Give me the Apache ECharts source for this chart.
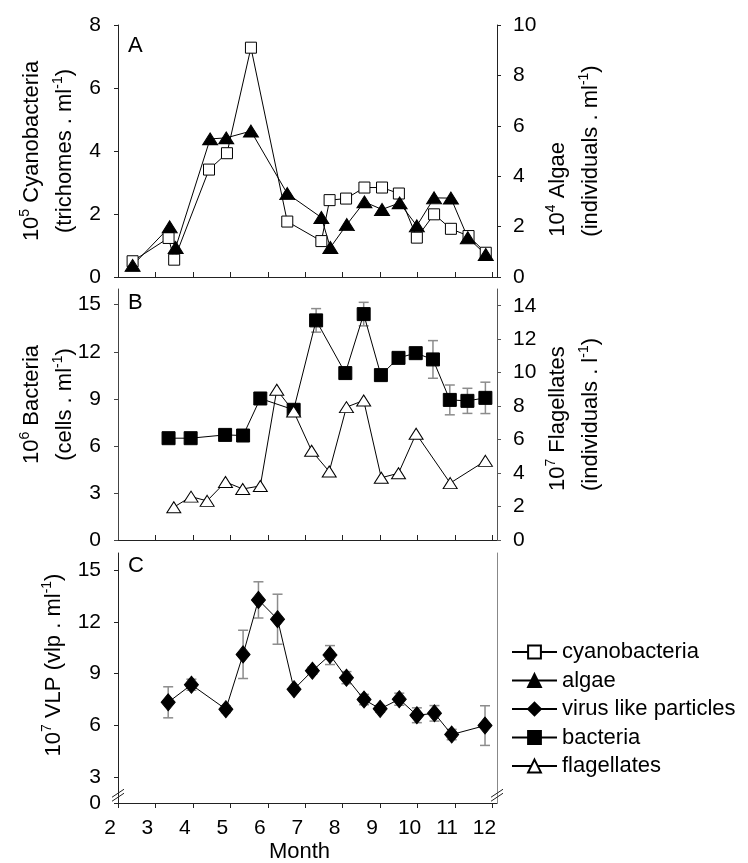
<!DOCTYPE html>
<html>
<head>
<meta charset="utf-8">
<script src="https://cdn.jsdelivr.net/npm/echarts@6/dist/echarts.min.js"></script>
<style>
  html, body { margin: 0; padding: 0; background: #fff; }
  #chart { width: 748px; height: 863px; }
</style>
</head>
<body>
<div id="chart"></div>
<script>
// values (x = month, y = panel units)
const cyanoMonth = [2.39, 3.35, 3.50, 4.43, 4.91, 5.55, 6.52, 7.43, 7.65, 8.09, 8.58, 9.05, 9.50, 9.98, 10.44, 10.89, 11.36, 11.82]
const cyanoValue = [0.50, 1.24, 0.55, 3.41, 3.93, 7.28, 1.76, 1.14, 2.44, 2.49, 2.84, 2.84, 2.65, 1.25, 1.99, 1.53, 1.30, 0.77]
const algaeMonth = [2.39, 3.38, 3.54, 4.46, 4.89, 5.55, 6.52, 7.43, 7.67, 8.11, 8.58, 9.05, 9.52, 9.98, 10.44, 10.89, 11.34, 11.82]
const algaeValue = [0.46, 1.99, 1.17, 5.48, 5.52, 5.79, 3.31, 2.36, 1.17, 2.08, 2.98, 2.68, 2.94, 2.03, 3.14, 3.13, 1.56, 0.89]
const bactMonth = [3.35, 3.94, 4.86, 5.34, 5.80, 6.69, 7.29, 8.07, 8.56, 9.02, 9.49, 9.95, 10.41, 10.86, 11.33, 11.81]
const bactValue = [6.49, 6.49, 6.70, 6.66, 9.02, 8.30, 14.0, 10.64, 14.4, 10.51, 11.61, 11.91, 11.51, 8.93, 8.87, 9.06]
const bactErr = [0.1, 0.1, 0.1, 0.1, 0.15, 0.35, 0.75, 0.2, 0.75, 0.2, 0.2, 0.2, 1.2, 0.95, 0.8, 1.0]
const flagMonth = [3.49, 3.95, 4.38, 4.87, 5.33, 5.80, 6.24, 6.69, 7.17, 7.64, 8.10, 8.56, 9.03, 9.49, 9.96, 10.87, 11.81]
const flagValue = [1.96, 2.59, 2.34, 3.47, 3.05, 3.23, 8.98, 7.68, 5.33, 4.09, 7.94, 8.34, 3.72, 3.99, 6.35, 3.40, 4.73]
const vlpMonth = [3.34, 3.96, 4.88, 5.34, 5.75, 6.26, 6.70, 7.19, 7.66, 8.10, 8.57, 9.00, 9.51, 9.98, 10.45, 10.91, 11.80]
const vlpValue = [7.34, 8.36, 6.94, 10.12, 13.28, 12.16, 8.10, 9.17, 10.08, 8.77, 7.50, 6.96, 7.52, 6.59, 6.70, 5.47, 5.99]
const vlpErr = [0.9, 0.32, 0.2, 1.4, 1.05, 1.45, 0.15, 0.2, 0.55, 0.35, 0.3, 0.2, 0.35, 0.43, 0.45, 0.3, 1.15]

// tick labels
const monthTicks = [2, 3, 4, 5, 6, 7, 8, 9, 10, 11, 12]
const cyanoTicks = [0, 2, 4, 6, 8]
const algaeTicks = [0, 2, 4, 6, 8, 10]
const bactTicks = [0, 3, 6, 9, 12, 15]
const flagTicks = [0, 2, 4, 6, 8, 10, 12, 14]
const vlpTicks = [0, 3, 6, 9, 12, 15]

const legendNames = ['cyanobacteria', 'algae', 'virus like particles', 'bacteria', 'flagellates']

// the VLP axis is broken: 0 sits just under 3
const vlpAxisMin = 1.5
const monthMax = 12.12
const FONT = "'Liberation Sans', Arial, sans-serif"

const pairs = (xs, ys) => xs.map((x, i) => [x, ys[i]])
const errPairs = (xs, ys, es) => xs.map((x, i) => [x, ys[i] - es[i], ys[i] + es[i]])

function renderErrorBar(params, api) {
  const x = api.value(0)
  const lo = api.coord([x, api.value(1)])
  const hi = api.coord([x, api.value(2)])
  const w = 5
  const style = { stroke: '#8c8c8c', lineWidth: 1.5 }
  return {
    type: 'group',
    children: [
      { type: 'line', shape: { x1: lo[0], y1: lo[1], x2: hi[0], y2: hi[1] }, style },
      { type: 'line', shape: { x1: lo[0] - w, y1: lo[1], x2: lo[0] + w, y2: lo[1] }, style },
      { type: 'line', shape: { x1: hi[0] - w, y1: hi[1], x2: hi[0] + w, y2: hi[1] }, style }
    ]
  }
}

function renderBreak(params, api) {
  const p = api.coord([api.value(0), api.value(1)])
  const slash = dy => ({
    type: 'line',
    shape: { x1: p[0] - 6, y1: p[1] + 4 + dy, x2: p[0] + 6, y2: p[1] - 4 + dy },
    style: { stroke: '#222', lineWidth: 1 }
  })
  return { type: 'group', children: [slash(-2), slash(2)] }
}

const supStyle = { fontSize: 14, lineHeight: 14, padding: [0, 0, 12, 0], fontFamily: FONT, color: '#000' }
const richLeft = { s: supStyle }
const richRight = {
  a: { align: 'left', fontSize: 22, fontFamily: FONT, color: '#000' },
  s: Object.assign({ align: 'left' }, supStyle)
}

function nameStyle(rich, padding) {
  return { fontSize: 22, fontFamily: FONT, color: '#000', lineHeight: 33, rich, padding: padding || 0 }
}

function valueAxis(opts) {
  const color = opts.color || '#222'
  return {
    type: 'value',
    gridIndex: opts.grid,
    position: opts.position,
    min: opts.min,
    max: opts.max,
    axisLine: { show: true, onZero: false, lineStyle: { color, width: 1 } },
    axisTick: { show: opts.ticks !== false, length: 4, customValues: opts.tickValues, lineStyle: { color } },
    axisLabel: {
      show: opts.ticks !== false,
      customValues: opts.tickValues,
      formatter: opts.formatter,
      margin: opts.position === 'right' ? 16 : 17,
      fontSize: 21, fontFamily: FONT, color: '#000'
    },
    splitLine: { show: false },
    name: opts.name,
    nameLocation: 'middle',
    nameRotate: 90,
    nameGap: opts.nameGap,
    nameMoveOverlap: false,
    nameTextStyle: opts.nameTextStyle
  }
}

function monthAxis(grid, bottom) {
  return {
    type: 'value',
    gridIndex: grid,
    min: 2,
    max: monthMax,
    axisLine: { onZero: false, lineStyle: { color: '#222', width: 1 } },
    axisTick: { inside: !bottom, length: 5, customValues: bottom ? monthTicks : monthTicks.slice(1), lineStyle: { color: '#222' } },
    axisLabel: {
      show: bottom,
      customValues: monthTicks,
      margin: 15,
      padding: [0, 16, 0, 0],
      fontSize: 21, fontFamily: FONT, color: '#000'
    },
    splitLine: { show: false },
    name: bottom ? 'Month' : '',
    nameLocation: 'middle',
    nameGap: 38,
    nameMoveOverlap: false,
    nameTextStyle: { fontSize: 22, fontFamily: FONT, color: '#000', padding: [0, 16, 0, 0] }
  }
}

function lineSeries(name, x, y, data, symbol, size, fill) {
  return {
    name, type: 'line', xAxisIndex: x, yAxisIndex: y,
    data, symbol, symbolSize: size, showAllSymbol: true,
    lineStyle: { color: '#000', width: 1 },
    itemStyle: { color: fill, borderColor: '#000', borderWidth: 1 },
    emphasis: { disabled: true },
    z: 3
  }
}

const chart = echarts.init(document.getElementById('chart'))

chart.setOption({
  animation: false,
  backgroundColor: '#fff',
  title: ['A', 'B', 'C'].map((t, i) => ({
    text: t,
    left: 128,
    top: [35, 292, 555][i],
    padding: 0,
    textStyle: { fontSize: 22, fontWeight: 'normal', fontFamily: FONT, color: '#000' }
  })),
  grid: [
    { left: 118, right: 251, top: 25, height: 252, outerBoundsMode: 'none' },
    { left: 118, right: 251, top: 289, height: 251, outerBoundsMode: 'none' },
    { left: 118, right: 251, top: 553, height: 250, outerBoundsMode: 'none' }
  ],
  legend: {
    orient: 'vertical',
    left: 511,
    top: 641,
    padding: 0,
    itemWidth: 45,
    itemHeight: 16,
    itemGap: 6.5,
    textStyle: { fontSize: 22, fontFamily: FONT, color: '#000' },
    data: legendNames
  },
  xAxis: [monthAxis(0, false), monthAxis(1, false), monthAxis(2, true)],
  yAxis: [
    valueAxis({
      grid: 0, position: 'left', min: 0, max: 8, tickValues: cyanoTicks,
      name: '10{s|5} Cyanobacteria\n(trichomes . ml{s|-1})', nameGap: 37,
      nameTextStyle: nameStyle(richLeft)
    }),
    valueAxis({
      grid: 0, position: 'right', min: 0, max: 10, tickValues: algaeTicks,
      name: '{a|10}{s|4}{a| Algae}\n{a|(individuals . ml}{s|-1}{a|)}', nameGap: 44,
      nameTextStyle: nameStyle(richRight)
    }),
    valueAxis({
      grid: 1, position: 'left', min: 0, max: 16, tickValues: bactTicks, color: '#444',
      name: '10{s|6} Bacteria\n(cells . ml{s|-1})', nameGap: 37,
      nameTextStyle: nameStyle(richLeft, [0, 0, 0, 20])
    }),
    valueAxis({
      grid: 1, position: 'right', min: 0, max: 15, tickValues: flagTicks, color: '#555',
      name: '{a|10}{s|7}{a| Flagellates}\n{a|(individuals . l}{s|-1}{a|)}', nameGap: 44,
      nameTextStyle: nameStyle(richRight)
    }),
    valueAxis({
      grid: 2, position: 'left', min: vlpAxisMin, max: 16,
      tickValues: vlpTicks.map(t => (t === 0 ? vlpAxisMin : t)),
      formatter: v => (v === vlpAxisMin ? '0' : String(v)),
      name: '10{s|7} VLP (vlp . ml{s|-1})', nameGap: 48,
      nameTextStyle: nameStyle(richLeft, [0, 0, 0, 26])
    }),
    valueAxis({ grid: 2, position: 'right', min: vlpAxisMin, max: 16, ticks: false, color: '#888' })
  ],
  series: [
    {
      name: 'bacteria error', type: 'custom', xAxisIndex: 1, yAxisIndex: 2,
      renderItem: renderErrorBar, encode: { x: 0, y: [1, 2] },
      data: errPairs(bactMonth, bactValue, bactErr), z: 1, silent: true
    },
    {
      name: 'vlp error', type: 'custom', xAxisIndex: 2, yAxisIndex: 4,
      renderItem: renderErrorBar, encode: { x: 0, y: [1, 2] },
      data: errPairs(vlpMonth, vlpValue, vlpErr), z: 1, silent: true
    },
    lineSeries('cyanobacteria', 0, 0, pairs(cyanoMonth, cyanoValue), 'rect', 11, '#fff'),
    lineSeries('algae', 0, 1, pairs(algaeMonth, algaeValue), 'triangle', [15, 12], '#000'),
    lineSeries('virus like particles', 2, 4, pairs(vlpMonth, vlpValue), 'diamond', [14, 17], '#000'),
    lineSeries('bacteria', 1, 2, pairs(bactMonth, bactValue), 'rect', 13, '#000'),
    lineSeries('flagellates', 1, 3, pairs(flagMonth, flagValue), 'triangle', [14, 11], '#fff'),
    {
      name: 'axis break', type: 'custom', xAxisIndex: 2, yAxisIndex: 4,
      renderItem: renderBreak, data: [[2, 1.95], [monthMax, 1.95]], z: 4, silent: true
    }
  ]
})
</script>
</body>
</html>
